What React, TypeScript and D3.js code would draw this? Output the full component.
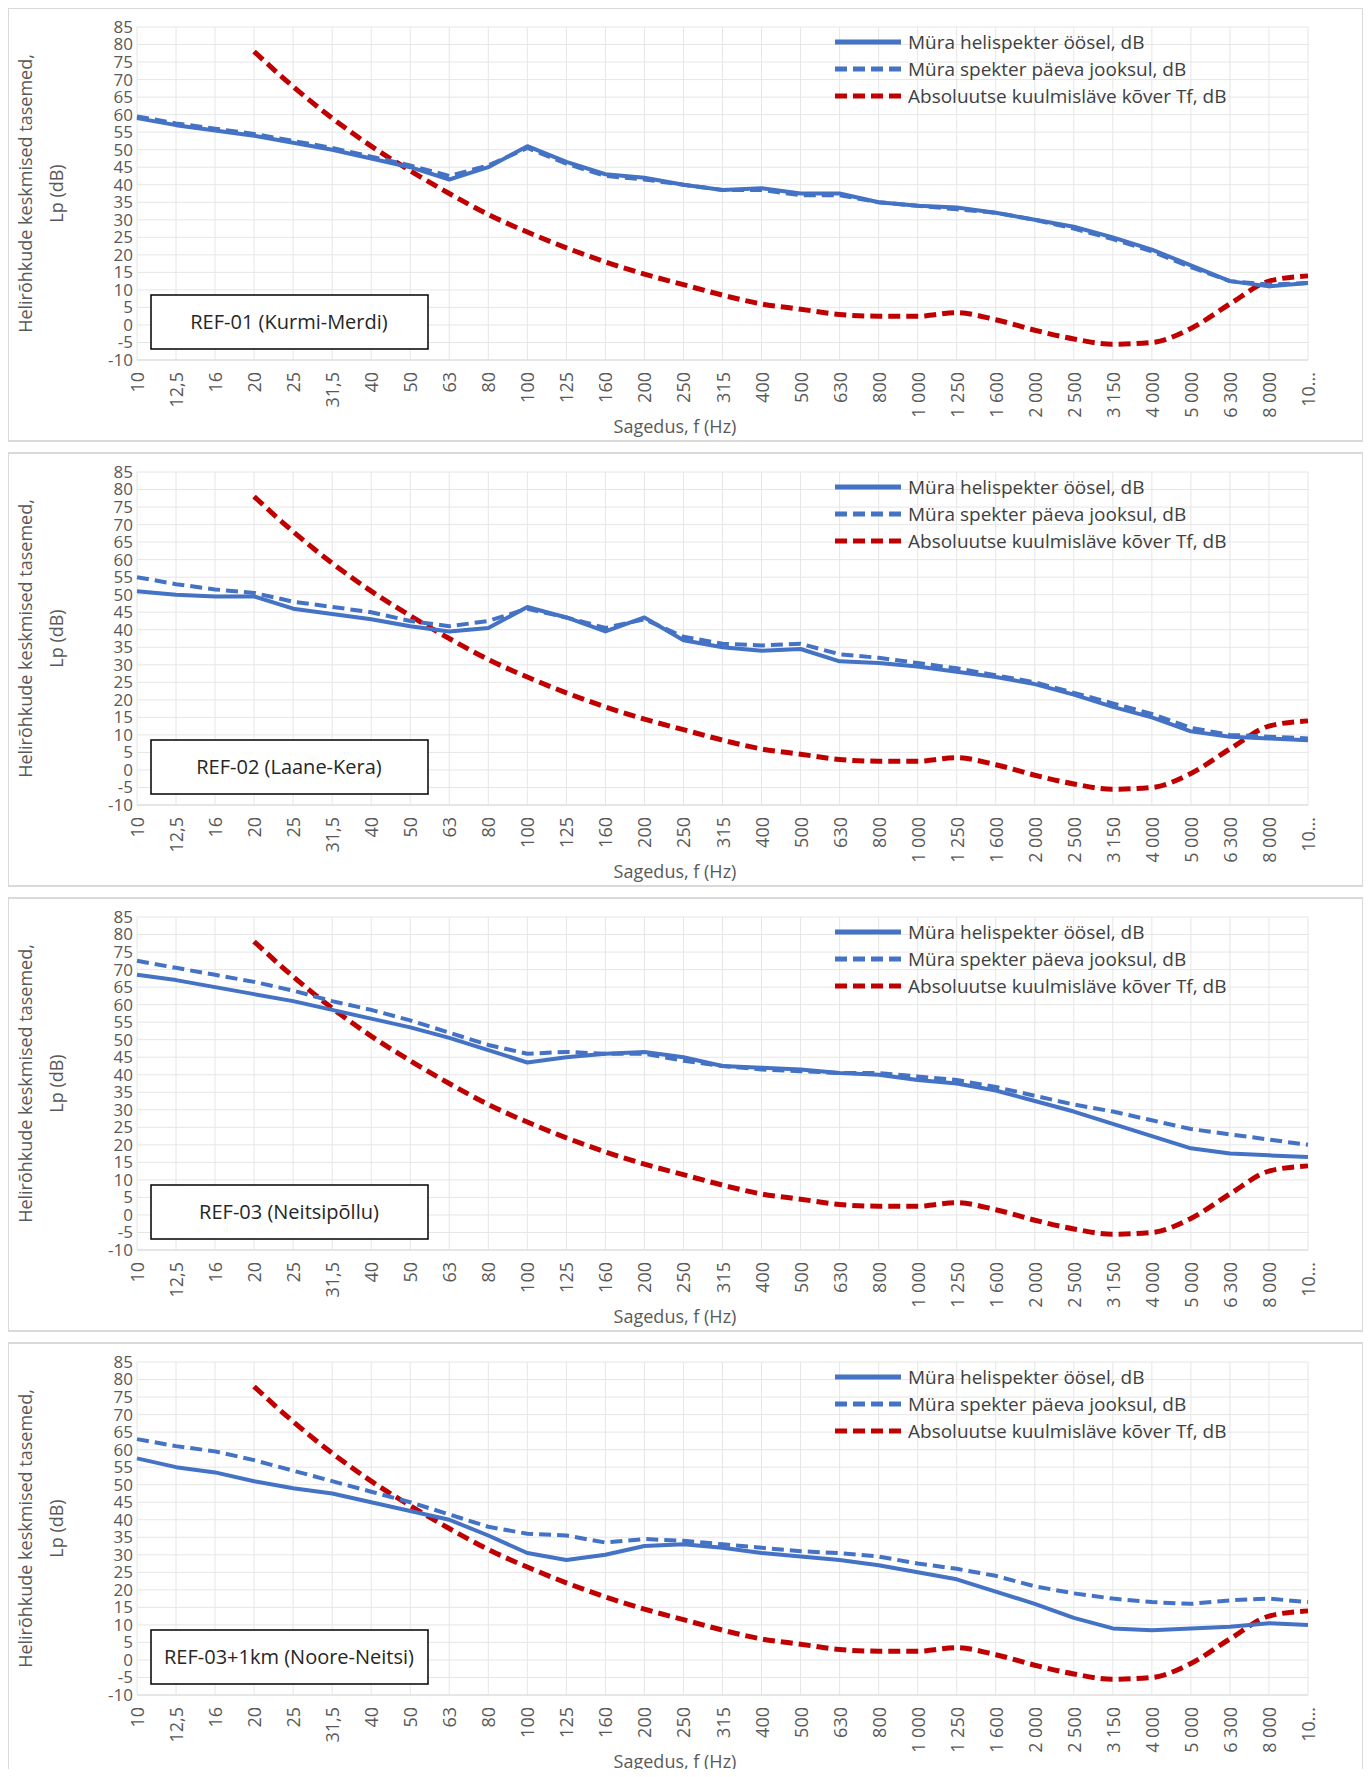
import * as d3 from 'd3';

const categories = ['10', '12,5', '16', '20', '25', '31,5', '40', '50', '63', '80', '100', '125', '160', '200', '250', '315', '400', '500', '630', '800', '1 000', '1 250', '1 600', '2 000', '2 500', '3 150', '4 000', '5 000', '6 300', '8 000', '10...'];
const yTicks = d3.range(-10, 86, 5);

// threshold curve starts at 20 Hz (index 3)
const threshold: (number | null)[] = [null, null, null, 78, 68, 59, 51, 44, 37.5, 31.5, 26.5, 22, 18, 14.5, 11.5, 8.5, 6, 4.5, 3, 2.5, 2.5, 3.5, 1.5, -1.5, -4, -5.5, -5, -1, 6, 12.5, 14];

const night1 = [59, 57, 55.5, 54, 52, 50, 47.5, 45, 41.5, 45, 51, 46.5, 43, 42, 40, 38.5, 39, 37.5, 37.5, 35, 34, 33.5, 32, 30, 28, 25, 21.5, 17, 12.5, 11, 12];
const day1 = [59.5, 57.5, 56, 54.5, 52.5, 50.5, 48, 45.5, 42.5, 45.5, 50.5, 46, 42.5, 41.5, 40, 38.5, 38.5, 37, 37, 35, 34, 33, 32, 30, 27.5, 24.5, 21, 16.5, 12.5, 11.5, 12];
const night2 = [51, 50, 49.5, 49.5, 46, 44.5, 43, 41, 39.5, 40.5, 46.5, 43.5, 39.5, 43.5, 37, 35, 34, 34.5, 31, 30.5, 29.5, 28, 26.5, 24.5, 21.5, 18, 15, 11, 9.5, 9, 8.5];
const day2 = [55, 53, 51.5, 50.5, 48, 46.5, 45, 42.5, 41, 42.5, 46, 43.5, 40.5, 43, 38, 36, 35.5, 36, 33, 32, 30.5, 29, 27, 25, 22, 19, 16, 12, 10, 9.5, 9];
const night3 = [68.5, 67, 65, 63, 61, 58.5, 56, 53.5, 50.5, 47, 43.5, 45, 46, 46.5, 45, 42.5, 42, 41.5, 40.5, 40, 38.5, 37.5, 35.5, 32.5, 29.5, 26, 22.5, 19, 17.5, 17, 16.5];
const day3 = [72.5, 70.5, 68.5, 66.5, 64, 61, 58.5, 55.5, 52, 48.5, 46, 46.5, 46, 46, 44, 42.5, 41.5, 41, 40.5, 40.5, 39.5, 38.5, 36.5, 34, 31.5, 29.5, 27, 24.5, 23, 21.5, 20];
const night4 = [57.5, 55, 53.5, 51, 49, 47.5, 45, 42.5, 40, 35.5, 30.5, 28.5, 30, 32.5, 33, 32, 30.5, 29.5, 28.5, 27, 25, 23, 19.5, 16, 12, 9, 8.5, 9, 9.5, 10.5, 10];
const day4 = [63, 61, 59.5, 57, 54, 51, 48, 45, 41.5, 38, 36, 35.5, 33.5, 34.5, 34, 33, 32, 31, 30.5, 29.5, 27.5, 26, 24, 21, 19, 17.5, 16.5, 16, 17, 17.5, 16.5];

const panels = [
  { name: 'REF-01 (Kurmi-Merdi)', night: night1, day: day1 },
  { name: 'REF-02 (Laane-Kera)', night: night2, day: day2 },
  { name: 'REF-03 (Neitsipõllu)', night: night3, day: day3 },
  { name: 'REF-03+1km (Noore-Neitsi)', night: night4, day: day4 },
];

const legend = ['Müra helispekter öösel, dB', 'Müra spekter päeva jooksul, dB', 'Absoluutse kuulmisläve kõver Tf, dB'];

const BLUE = '#4472c4';
const RED = '#c00000';
const FONT = '"Open Sans", "Noto Sans", sans-serif';
const PANEL_H = 445;

function Panel({ idx, name, night, day }: { idx: number; name: string; night: number[]; day: number[] }) {
  const top = idx * PANEL_H;
  const margin = { left: 137, right: 1308, top: 27, bottom: 360 };
  const x = d3.scalePoint<string>().domain(categories).range([margin.left, margin.right]);
  const y = d3.scaleLinear().domain([-10, 85]).range([margin.bottom, margin.top]);
  const smooth = d3.line<number | null>()
    .defined((d) => d !== null)
    .x((_d, i) => x(categories[i]) ?? 0)
    .y((d) => y(d as number))
    .curve(d3.curveMonotoneX);
  const straight = d3.line<number>()
    .x((_d, i) => x(categories[i]) ?? 0)
    .y((d) => y(d));
  const styles = [
    { color: BLUE, dash: undefined },
    { color: BLUE, dash: '12 6' },
    { color: RED, dash: '12 6' },
  ];
  return (
    <g transform={`translate(0, ${top})`}>
      <rect x={8} y={8} width={1355} height={433} fill="white" stroke="#d9d9d9" strokeWidth={2} />
      {yTicks.map((t) => (
        <line key={t} x1={margin.left} x2={margin.right} y1={y(t)} y2={y(t)} stroke="#e6e6e6" />
      ))}
      {categories.map((c) => (
        <line key={c} x1={x(c)} x2={x(c)} y1={margin.top} y2={margin.bottom} stroke="#e6e6e6" />
      ))}
      <line x1={margin.left} x2={margin.right} y1={margin.bottom} y2={margin.bottom} stroke="#d9d9d9" />
      {yTicks.map((t) => (
        <text key={t} x={margin.left - 4} y={y(t)} dy="0.35em" textAnchor="end" fontSize={17} fill="#595959" fontFamily={FONT}>{t}</text>
      ))}
      {categories.map((c) => (
        <text key={c} transform={`translate(${(x(c) ?? 0) + 7}, ${margin.bottom + 12}) rotate(-90)`} textAnchor="end" fontSize={18} fill="#595959" fontFamily={FONT}>{c}</text>
      ))}
      <text x={675} y={433} textAnchor="middle" fontSize={18} fill="#595959" fontFamily={FONT}>Sagedus, f (Hz)</text>
      <text transform={`translate(32, ${(margin.top + margin.bottom) / 2}) rotate(-90)`} textAnchor="middle" fontSize={18} fill="#595959" fontFamily={FONT}>Helirõhkude keskmised tasemed,</text>
      <text transform={`translate(63, ${(margin.top + margin.bottom) / 2}) rotate(-90)`} textAnchor="middle" fontSize={18} fill="#595959" fontFamily={FONT}>Lp (dB)</text>
      <path d={smooth(threshold) ?? ''} fill="none" stroke={RED} strokeWidth={5} strokeDasharray="12 6" />
      <path d={straight(day) ?? ''} fill="none" stroke={BLUE} strokeWidth={4} strokeDasharray="12 6" strokeLinejoin="round" />
      <path d={straight(night) ?? ''} fill="none" stroke={BLUE} strokeWidth={4} strokeLinejoin="round" />
      <rect x={151} y={295} width={277} height={54} fill="white" stroke="black" strokeWidth={1.5} />
      <text x={289} y={322} dy="0.35em" textAnchor="middle" fontSize={20} fill="#262626" fontFamily={FONT}>{name}</text>
      {legend.map((l, i) => (
        <g key={l} transform={`translate(835, ${42 + i * 27})`}>
          <line x1={0} x2={66} y1={0} y2={0} stroke={styles[i].color} strokeWidth={5} strokeDasharray={styles[i].dash} />
          <text x={73} y={0} dy="0.35em" fontSize={19} fill="#404040" fontFamily={FONT}>{l}</text>
        </g>
      ))}
    </g>
  );
}

export default function App() {
  return (
    <svg width={1371} height={1777} style={{ display: 'block', margin: '-8px' }}>
      <rect width={1371} height={1777} fill="white" />
      {panels.map((p, i) => (
        <Panel key={p.name} idx={i} name={p.name} night={p.night} day={p.day} />
      ))}
    </svg>
  );
}
